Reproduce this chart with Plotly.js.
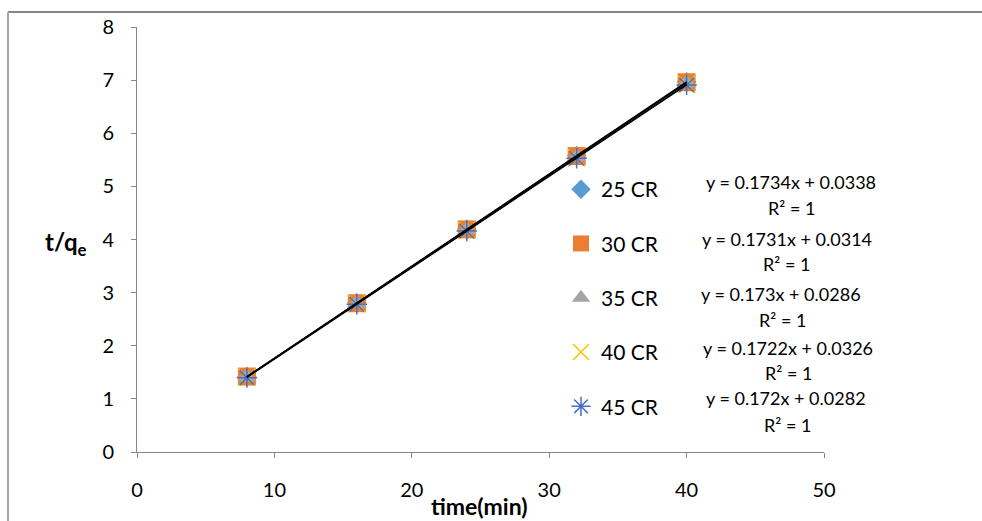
<!DOCTYPE html>
<html>
<head>
<meta charset="utf-8">
<script src="https://cdn.plot.ly/plotly-3.0.1.min.js"></script>
<style>
  html, body { margin: 0; padding: 0; background: #fff; }
  #chart { width: 982px; height: 521px; }
</style>
</head>
<body>
<div id="chart"></div>
<script>
// ---- data ----
const times = [8, 16, 24, 32, 40];
const seriesNames = ['25 CR', '30 CR', '35 CR', '40 CR', '45 CR'];
const cr25 = [1.42, 2.81, 4.20, 5.58, 6.97];
const cr30 = [1.42, 2.80, 4.19, 5.57, 6.96];
const cr35 = [1.41, 2.80, 4.18, 5.56, 6.95];
const cr40 = [1.41, 2.79, 4.17, 5.54, 6.92];
const cr45 = [1.40, 2.78, 4.16, 5.53, 6.91];
const slopes = [0.1734, 0.1731, 0.173, 0.1722, 0.172];
const intercepts = [0.0338, 0.0314, 0.0286, 0.0326, 0.0282];
const equations = ['y = 0.1734x + 0.0338', 'y = 0.1731x + 0.0314', 'y = 0.173x + 0.0286', 'y = 0.1722x + 0.0326', 'y = 0.172x + 0.0282'];
const rSquared = ['R² = 1', 'R² = 1', 'R² = 1', 'R² = 1', 'R² = 1'];
const xTicks = [0, 10, 20, 30, 40, 50];
const yTicks = [0, 1, 2, 3, 4, 5, 6, 7, 8];

const allY = [cr25, cr30, cr35, cr40, cr45];

// ---- styles ----
const FONT = 'Lato, "Open Sans", sans-serif';
const markers = [
  {symbol: 'diamond', size: 15, color: '#5B9BD5'},
  {symbol: 'square', size: 18, color: '#ED7D31'},
  {symbol: 'triangle-up', size: 17, color: '#A5A5A5'},
  {symbol: 'x-thin-open', size: 17, color: '#FFC000', line: {color: '#FFC000', width: 1.5}},
  {symbol: 'asterisk-open', size: 17, color: '#4472C4', line: {color: '#4472C4', width: 1.5}}
];

const traces = [];
allY.forEach((ys, i) => {
  traces.push({
    type: 'scatter', mode: 'markers', name: seriesNames[i],
    x: times, y: ys, marker: markers[i], legendgroup: 'g' + i,
    hoverinfo: 'x+y'
  });
});
allY.forEach((ys, i) => {
  const x0 = times[0], x1 = times[times.length - 1];
  traces.push({
    type: 'scatter', mode: 'lines', showlegend: false,
    x: [x0, x1], y: [slopes[i] * x0 + intercepts[i], slopes[i] * x1 + intercepts[i]],
    line: {color: '#000000', width: 1.2}, hoverinfo: 'skip'
  });
});

// geometry helpers (pixel -> paper)
const L = 137, R = 158, T = 27, B = 69, W = 982, H = 521;
const pw = W - L - R, ph = H - T - B;
const px = v => (v - L) / pw;
const py = v => (H - B - v) / ph;

const eqPos = [[791, 182], [787, 239], [781, 294], [788, 348], [786, 398]];
const r2Pos = [[791, 208], [786, 264], [782, 320], [788, 373], [787, 425]];
const annotations = [];
equations.forEach((eq, i) => {
  annotations.push({
    xref: 'paper', yref: 'paper', x: px(eqPos[i][0]), y: py(eqPos[i][1]),
    xanchor: 'center', yanchor: 'middle', showarrow: false,
    text: eq, font: {family: FONT, size: 18, color: '#000'}
  });
  annotations.push({
    xref: 'paper', yref: 'paper', x: px(r2Pos[i][0]), y: py(r2Pos[i][1]),
    xanchor: 'center', yanchor: 'middle', showarrow: false,
    text: rSquared[i], font: {family: FONT, size: 18, color: '#000'}
  });
});
annotations.push({
  xref: 'paper', yref: 'paper', x: px(66), y: py(243), xanchor: 'center', yanchor: 'middle',
  showarrow: false, text: '<b>t/q<sub>e</sub></b>', font: {family: FONT, size: 24, color: '#000'}
});
annotations.push({
  xref: 'paper', yref: 'paper', x: px(479), y: py(506), xanchor: 'center', yanchor: 'middle',
  showarrow: false, text: '<b>time(min)</b>', font: {family: FONT, size: 23, color: '#000'}
});

const layout = {
  width: W, height: H,
  margin: {l: L, r: R, t: T, b: B},
  paper_bgcolor: '#ffffff', plot_bgcolor: '#ffffff',
  font: {family: FONT, size: 20, color: '#000'},
  showlegend: true,
  legend: {
    x: px(561), y: py(169), xanchor: 'left', yanchor: 'top',
    font: {family: FONT, size: 21, color: '#000'},
    tracegroupgap: 24, bgcolor: 'rgba(0,0,0,0)'
  },
  xaxis: {
    range: [0, 50], tickvals: xTicks, showgrid: false, zeroline: false,
    showline: true, linecolor: '#868686', linewidth: 1,
    ticks: 'outside', ticklen: 5, tickcolor: '#868686',
    ticklabelstandoff: 15, tickfont: {family: FONT, size: 20, color: '#000'}
  },
  yaxis: {
    range: [0, 8], tickvals: yTicks, showgrid: false, zeroline: false,
    showline: true, linecolor: '#868686', linewidth: 1,
    ticks: 'outside', ticklen: 5, tickcolor: '#868686',
    ticklabelstandoff: 13, tickfont: {family: FONT, size: 20, color: '#000'}
  },
  shapes: [
    {type: 'line', xref: 'paper', yref: 'paper', x0: px(8), x1: px(990), y0: py(12), y1: py(12), line: {color: '#868686', width: 2}},
    {type: 'line', xref: 'paper', yref: 'paper', x0: px(8), x1: px(8), y0: py(12), y1: py(530), line: {color: '#A6A6A6', width: 2}}
  ],
  annotations: annotations
};

Plotly.newPlot('chart', traces, layout, {displayModeBar: false, staticPlot: true});
</script>
</body>
</html>
